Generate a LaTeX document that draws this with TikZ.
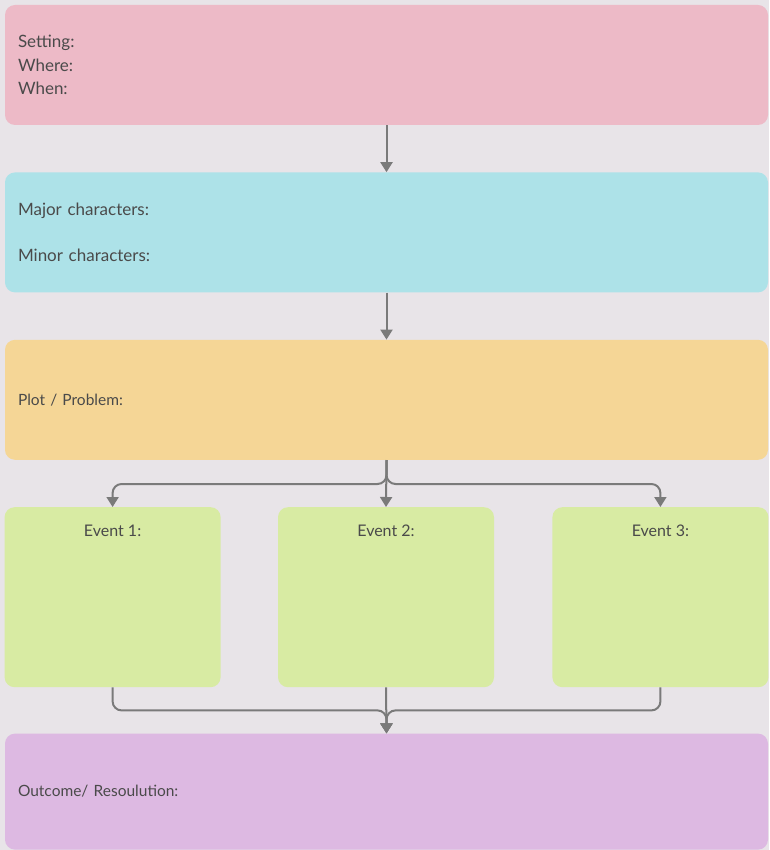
\documentclass[tikz,border=0pt]{standalone}
\usepackage{fontspec}
\setmainfont{Lato}
\usetikzlibrary{arrows.meta, positioning}
\definecolor{bgcol}{HTML}{E8E4E8}
\definecolor{pinkbox}{HTML}{EDBAC7}
\definecolor{cyanbox}{HTML}{ADE2E8}
\definecolor{sandbox}{HTML}{F5D696}
\definecolor{greenbox}{HTML}{D8EBA3}
\definecolor{lilacbox}{HTML}{DDB9E2}
\definecolor{linegray}{HTML}{7A7A7A}
\definecolor{txtgray}{HTML}{4A4A4A}

\begin{document}
\begin{tikzpicture}[
        node distance=47pt and 57pt,
        box/.style={rectangle, rounded corners=10pt, minimum width=763pt,
                    minimum height=120pt, text width=737pt, inner xsep=13pt,
                    align=left, text=txtgray,
                    font=\fontsize{15.5}{23}\selectfont},
        bigtext/.style={font=\fontsize{17}{23.5}\selectfont},
        eventbox/.style={rectangle, rounded corners=10pt, minimum width=216pt,
                    minimum height=180pt, fill=greenbox},
        eventtext/.style={text=txtgray, font=\fontsize{16}{18}\selectfont},
        arr/.style={-{Triangle[width=12pt,length=10pt]}, line width=2pt,
                    linegray, rounded corners=9pt}
    ]
    % Background
    \fill[bgcol] (0,0) rectangle (769pt,-850pt);
    
    % Column of boxes
    \node[box, bigtext, fill=pinkbox] (set) at (386.5pt,-65pt)
        {Setting:\\Where:\\When:};
    \node[box, bigtext, fill=cyanbox, below=of set] (chr)
        {Major characters:\\[23pt]Minor characters:};
    \node[box, fill=sandbox, below=of chr] (plt) {Plot / Problem:};
    
    % Events
    \node[eventbox, below=of plt, xshift=-0.5pt] (ev2)
        {}; 
    \node[eventbox, left=of ev2]  (ev1) {};
    \node[eventbox, right=58pt of ev2] (ev3) {};
    \node[eventtext, below=14pt of ev1.north, anchor=north] (t1) {Event 1:};
    \node[eventtext, below=14pt of ev2.north, anchor=north] (t2) {Event 2:};
    \node[eventtext, below=14pt of ev3.north, anchor=north] (t3) {Event 3:};
    
    % Outcome
    \node[box, fill=lilacbox, minimum height=116pt, below=46pt of ev2, xshift=0.5pt] (out)
        {Outcome/ Resoulution:};
    
    % Connections
    \draw[arr] (set.south)--(chr.north); \draw[arr] (chr.south)--(plt.north);
    \draw[arr] (plt.south) -- ++(0,-24pt) -| (ev1.north);
    \draw[arr] (plt.south) -- ++(0,-24pt) -| (ev3.north);
    \draw[arr] (plt.south)--(ev2.north);
    \draw[arr] (ev1.south) -- ++(0,-23pt) -| (out.north);
    \draw[arr] (ev3.south) -- ++(0,-23pt) -| (out.north);
    \draw[arr] (ev2.south)--(out.north);
\end{tikzpicture}
\end{document}
